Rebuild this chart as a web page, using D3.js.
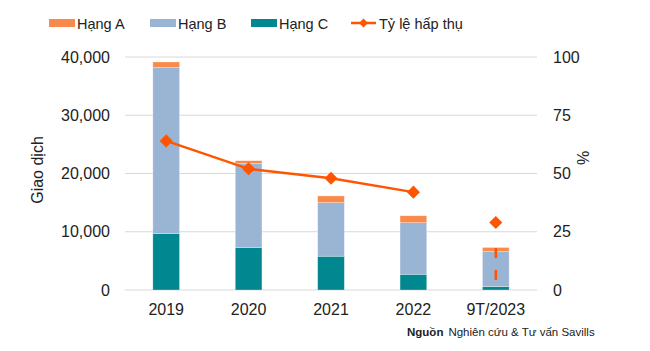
<!DOCTYPE html>
<html>
<head>
<meta charset="utf-8">
<script src="https://cdn.jsdelivr.net/npm/d3@7"></script>
<style>
  body { margin: 0; background: #fff; }
  svg text { font-family: "Liberation Sans", Arial, sans-serif; }
</style>
</head>
<body>
<svg id="chart" width="650" height="351"></svg>
<script>
// du lieu doc tu bieu do
var years = ['2019', '2020', '2021', '2022', '9T/2023']
var hangA = [950, 450, 1150, 1200, 700]
var hangB = [28500, 14450, 9200, 8850, 6000]
var hangC = [9700, 7300, 5800, 2700, 600]
var tyLe = [64, 52, 48, 42, 29]
var tyLeDash = [18, 3.5]   // doan net dut o cot 9T/2023
var leftTicks = [0, 10000, 20000, 30000, 40000]
var rightTicks = [0, 25, 50, 75, 100]
var seriesNames = ['Hạng A', 'Hạng B', 'Hạng C', 'Tỷ lệ hấp thụ']
var colors = { A: '#f98a4b', B: '#9ab4d3', C: '#01878f', line: '#ff5500' }

var svg = d3.select('#chart')
var plotLeft = 125, plotRight = 537, plotTop = 57, plotBottom = 290

var x = d3.scaleBand().domain(years).range([plotLeft, plotRight])
    .paddingInner(0.676).paddingOuter(0.338)
var y = d3.scaleLinear().domain([0, 40000]).range([plotBottom, plotTop])
var y2 = d3.scaleLinear().domain([0, 100]).range([plotBottom, plotTop])

// luoi
svg.append('g')
    .selectAll('line')
    .data(leftTicks)
    .enter().append('line')
    .attr('x1', plotLeft).attr('x2', plotRight)
    .attr('y1', d => y(d)).attr('y2', d => y(d))
    .attr('stroke', '#d9d9d9').attr('stroke-width', 1)

// truc trai
var axL = svg.append('g')
    .attr('transform', 'translate(' + (plotLeft - 15) + ',0)')
    .call(d3.axisLeft(y).tickValues(leftTicks).tickSize(0).tickPadding(0).tickFormat(d3.format(',')))
axL.select('.domain').remove()
axL.selectAll('text').attr('font-size', 16).attr('fill', '#222')

// truc phai
var axR = svg.append('g')
    .attr('transform', 'translate(' + (plotRight + 16) + ',0)')
    .call(d3.axisRight(y2).tickValues(rightTicks).tickSize(0).tickPadding(0))
axR.select('.domain').remove()
axR.selectAll('text').attr('font-size', 16).attr('fill', '#222')

// truc x
var axX = svg.append('g')
    .attr('transform', 'translate(0,' + plotBottom + ')')
    .call(d3.axisBottom(x).tickSize(0).tickPadding(14))
axX.select('.domain').remove()
axX.selectAll('text').attr('font-size', 16).attr('fill', '#222')

// cot chong
var rows = years.map((yr, i) => ({ year: yr, C: hangC[i], B: hangB[i], A: hangA[i] }))
var stack = d3.stack().keys(['C', 'B', 'A'])
var layers = stack(rows)
svg.append('g')
    .selectAll('g')
    .data(layers)
    .enter().append('g')
    .attr('fill', d => colors[d.key])
    .selectAll('rect')
    .data(d => d)
    .enter().append('rect')
    .attr('x', d => x(d.data.year))
    .attr('width', x.bandwidth())
    .attr('y', d => y(d[1]))
    .attr('height', d => y(d[0]) - y(d[1]))
    .attr('stroke', 'rgba(255,255,255,0.5)')
    .attr('stroke-width', 0.6)

// duong ty le (4 nam dau noi lien)
var cx = d => x(d) + x.bandwidth() / 2
var lineGen = d3.line()
    .x(d => cx(d.year))
    .y(d => y2(d.v))
var pts = years.map((yr, i) => ({ year: yr, v: tyLe[i] }))
svg.append('path')
    .attr('d', lineGen(pts.slice(0, 4)))
    .attr('fill', 'none')
    .attr('stroke', colors.line)
    .attr('stroke-width', 2.5)

svg.append('line')
    .attr('x1', cx(years[4])).attr('x2', cx(years[4]))
    .attr('y1', y2(tyLeDash[0])).attr('y2', y2(tyLeDash[1]))
    .attr('stroke', colors.line)
    .attr('stroke-width', 2.5)
    .attr('stroke-dasharray', '10,12')

var diamond = d3.symbol().type(d3.symbolSquare).size(85)
svg.append('g')
    .selectAll('path')
    .data(pts)
    .enter().append('path')
    .attr('d', diamond)
    .attr('transform', d => 'translate(' + cx(d.year) + ',' + y2(d.v) + ') rotate(45)')
    .attr('fill', colors.line)

// ten truc
svg.append('text')
    .attr('transform', 'translate(43,170) rotate(-90)')
    .attr('text-anchor', 'middle')
    .attr('font-size', 16)
    .attr('fill', '#222')
    .text('Giao dịch')
svg.append('text')
    .attr('transform', 'translate(589,158) rotate(-90)')
    .attr('text-anchor', 'middle')
    .attr('font-size', 16)
    .attr('fill', '#222')
    .text('%')

// chu thich
var legX = [49, 150, 251, 351]
var legKeys = ['A', 'B', 'C', 'line']
var leg = svg.append('g')
legKeys.forEach(function (k, i) {
    if (k == 'line') {
        leg.append('line')
            .attr('x1', legX[i]).attr('x2', legX[i] + 25)
            .attr('y1', 23).attr('y2', 23)
            .attr('stroke', colors.line).attr('stroke-width', 2.5)
        leg.append('path')
            .attr('d', d3.symbol().type(d3.symbolSquare).size(40))
            .attr('transform', 'translate(' + (legX[i] + 12.5) + ',23) rotate(45)')
            .attr('fill', colors.line)
    } else {
        leg.append('rect')
            .attr('x', legX[i]).attr('y', 19)
            .attr('width', 26).attr('height', 8)
            .attr('fill', colors[k])
    }
    leg.append('text')
        .attr('x', legX[i] + 28).attr('y', 28.5)
        .attr('font-size', 14.5)
        .attr('fill', '#222')
        .text(seriesNames[i])
})

// nguon
svg.append('text')
    .attr('x', 407).attr('y', 336)
    .attr('font-size', 11.5)
    .attr('fill', '#222')
    .call(t => {
        t.append('tspan').attr('font-weight', 'bold').text('Nguồn')
        t.append('tspan').attr('dx', 5).text('Nghiên cứu & Tư vấn Savills')
    })
</script>
</body>
</html>
